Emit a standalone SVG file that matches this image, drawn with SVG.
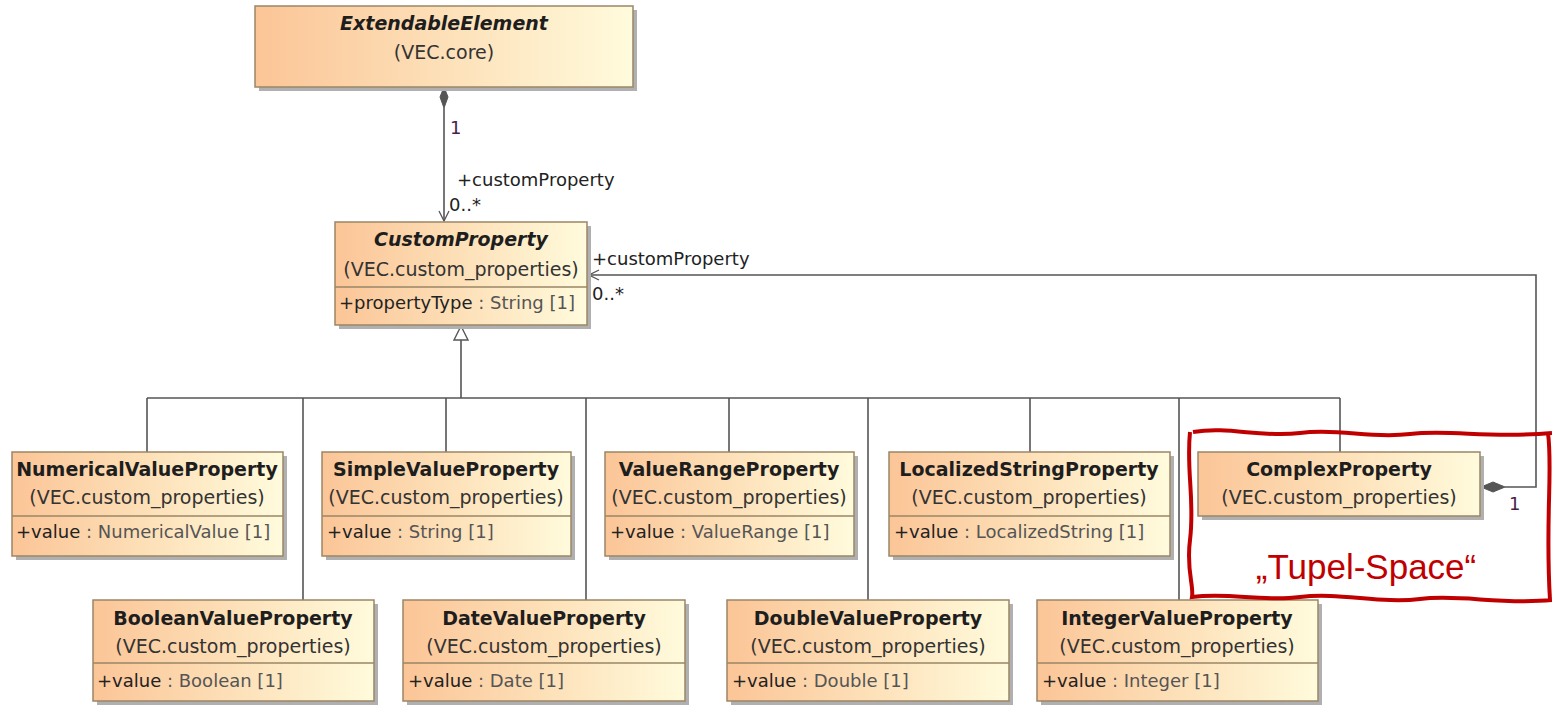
<svg xmlns="http://www.w3.org/2000/svg" width="1552" height="705" viewBox="0 0 1552 705">
<defs>
<linearGradient id="g" x1="0" y1="0" x2="1" y2="0">
<stop offset="0" stop-color="#fbc597"/>
<stop offset="0.5" stop-color="#fde0b8"/>
<stop offset="1" stop-color="#fffbdc"/>
</linearGradient>
<marker id="open" viewBox="0 0 12 12" refX="11" refY="6" markerWidth="12" markerHeight="12" markerUnits="userSpaceOnUse" orient="auto">
<path d="M1,1 L11,6 L1,11" fill="none" stroke="#555" stroke-width="1.3"/>
</marker>
<style>
.box{fill:url(#g);stroke:#9a8666;stroke-width:1.5}
.sh{fill:#b0b0b0}
.div{stroke:#9a8666;stroke-width:1.5}
.t{font-family:"DejaVu Sans",Verdana,sans-serif;font-size:19px;font-weight:bold;fill:#1e1e1e;text-anchor:middle}
.ti{font-style:italic}
.s{font-family:"DejaVu Sans",Verdana,sans-serif;font-size:19px;fill:#333;text-anchor:middle}
.a{font-family:"DejaVu Sans",Verdana,sans-serif;font-size:18px;fill:#555}
.a tspan.p{fill:#222}
.l{font-family:"DejaVu Sans",Verdana,sans-serif;font-size:18px;fill:#222}
.m{fill:#4a1c4a}
.c{fill:none;stroke:#555;stroke-width:1.6}
</style>
</defs>

<g id="connectors">
<path class="c" d="M444,108 L444,221" marker-end="url(#open)"/>
<path d="M444,87 L448,97 L444,108 L440,97 Z" fill="#555" stroke="#555"/>
<text class="l m" x="450" y="134">1</text>
<text class="l" x="457" y="186">+customProperty</text>
<text class="l" x="449" y="211">0..*</text>
<path class="c" d="M461,340 L461,398 M147,398 L1340,398"/>
<path d="M461,326 L468,340 L454,340 Z" fill="#fff" stroke="#555" stroke-width="1.4"/>
<path class="c" d="M147,398 V452 M303,398 V600 M446,398 V452 M586,398 V600 M729,398 V452 M868,398 V600 M1030,398 V452 M1179,398 V600 M1340,398 V452"/>
<path class="c" d="M1505,487 L1536,487 L1536,275 L589,275" marker-end="url(#open)"/>
<path d="M1481,487 L1493,482 L1505,487 L1493,492 Z" fill="#555" stroke="#555"/>
<text class="l" x="592" y="265">+customProperty</text>
<text class="l" x="592" y="300">0..*</text>
<text class="l m" x="1509" y="510">1</text>
</g>

<g id="ExtendableElement">
<rect class="sh" x="259" y="10" width="378" height="81"/>
<rect class="box" x="255" y="6" width="378" height="81"/>
<text class="t ti" x="444" y="30">ExtendableElement</text>
<text class="s" x="444" y="59">(VEC.core)</text>
</g>

<g id="CustomProperty">
<rect class="sh" x="339" y="226" width="252" height="103"/>
<rect class="box" x="335" y="222" width="252" height="103"/>
<line class="div" x1="335" y1="287" x2="587" y2="287"/>
<text class="t ti" x="461" y="246">CustomProperty</text>
<text class="s" x="461" y="276">(VEC.custom_properties)</text>
<text class="a" x="339" y="309"><tspan class="p">+propertyType</tspan> : String [1]</text>
</g>

<g id="NumericalValueProperty">
<rect class="sh" x="16" y="456" width="271" height="104"/>
<rect class="box" x="12" y="452" width="271" height="104"/>
<line class="div" x1="12" y1="516" x2="283" y2="516"/>
<text class="t" x="147" y="476">NumericalValueProperty</text>
<text class="s" x="147" y="504">(VEC.custom_properties)</text>
<text class="a" x="16" y="538"><tspan class="p">+value</tspan> : NumericalValue [1]</text>
</g>

<g id="SimpleValueProperty">
<rect class="sh" x="326" y="456" width="249" height="104"/>
<rect class="box" x="322" y="452" width="249" height="104"/>
<line class="div" x1="322" y1="516" x2="571" y2="516"/>
<text class="t" x="446" y="476">SimpleValueProperty</text>
<text class="s" x="446" y="504">(VEC.custom_properties)</text>
<text class="a" x="327" y="538"><tspan class="p">+value</tspan> : String [1]</text>
</g>

<g id="ValueRangeProperty">
<rect class="sh" x="609" y="456" width="249" height="104"/>
<rect class="box" x="605" y="452" width="249" height="104"/>
<line class="div" x1="605" y1="516" x2="854" y2="516"/>
<text class="t" x="729" y="476">ValueRangeProperty</text>
<text class="s" x="729" y="504">(VEC.custom_properties)</text>
<text class="a" x="610" y="538"><tspan class="p">+value</tspan> : ValueRange [1]</text>
</g>

<g id="LocalizedStringProperty">
<rect class="sh" x="893" y="456" width="281" height="104"/>
<rect class="box" x="889" y="452" width="281" height="104"/>
<line class="div" x1="889" y1="516" x2="1170" y2="516"/>
<text class="t" x="1029" y="476">LocalizedStringProperty</text>
<text class="s" x="1029" y="504">(VEC.custom_properties)</text>
<text class="a" x="894" y="538"><tspan class="p">+value</tspan> : LocalizedString [1]</text>
</g>

<g id="ComplexProperty">
<rect class="sh" x="1202" y="456" width="282" height="64"/>
<rect class="box" x="1198" y="452" width="282" height="64"/>
<text class="t" x="1339" y="476">ComplexProperty</text>
<text class="s" x="1339" y="504">(VEC.custom_properties)</text>
</g>

<g id="BooleanValueProperty">
<rect class="sh" x="97" y="604" width="281" height="101"/>
<rect class="box" x="93" y="600" width="281" height="101"/>
<line class="div" x1="93" y1="663" x2="374" y2="663"/>
<text class="t" x="233" y="625">BooleanValueProperty</text>
<text class="s" x="233" y="653">(VEC.custom_properties)</text>
<text class="a" x="97" y="687"><tspan class="p">+value</tspan> : Boolean [1]</text>
</g>

<g id="DateValueProperty">
<rect class="sh" x="407" y="604" width="282" height="101"/>
<rect class="box" x="403" y="600" width="282" height="101"/>
<line class="div" x1="403" y1="663" x2="685" y2="663"/>
<text class="t" x="544" y="625">DateValueProperty</text>
<text class="s" x="544" y="653">(VEC.custom_properties)</text>
<text class="a" x="408" y="687"><tspan class="p">+value</tspan> : Date [1]</text>
</g>

<g id="DoubleValueProperty">
<rect class="sh" x="731" y="604" width="282" height="101"/>
<rect class="box" x="727" y="600" width="282" height="101"/>
<line class="div" x1="727" y1="663" x2="1009" y2="663"/>
<text class="t" x="868" y="625">DoubleValueProperty</text>
<text class="s" x="868" y="653">(VEC.custom_properties)</text>
<text class="a" x="732" y="687"><tspan class="p">+value</tspan> : Double [1]</text>
</g>

<g id="IntegerValueProperty">
<rect class="sh" x="1041" y="604" width="281" height="101"/>
<rect class="box" x="1037" y="600" width="281" height="101"/>
<line class="div" x1="1037" y1="663" x2="1318" y2="663"/>
<text class="t" x="1177" y="625">IntegerValueProperty</text>
<text class="s" x="1177" y="653">(VEC.custom_properties)</text>
<text class="a" x="1042" y="687"><tspan class="p">+value</tspan> : Integer [1]</text>
</g>

<g id="TupelSpace">
<path d="M1193,432 C1230,426 1260,438 1300,433 C1340,428 1370,439 1410,434 C1450,429 1490,439 1552,433 M1190,432 C1186,470 1195,500 1190,540 C1186,570 1194,585 1192,597 C1230,592 1260,602 1300,597 C1340,592 1380,604 1420,599 C1460,594 1500,605 1552,600 M1548,433 C1553,470 1545,520 1550,600" fill="none" stroke="#c00000" stroke-width="4"/>
<text x="1366" y="579" font-family="Liberation Sans,Arial,sans-serif" font-size="35" fill="#c00000" text-anchor="middle">„Tupel-Space“</text>
</g>
</svg>
